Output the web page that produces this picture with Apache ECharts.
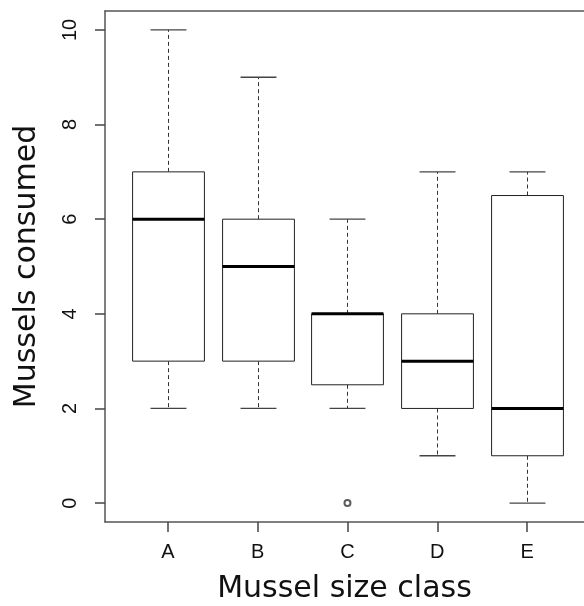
<!DOCTYPE html>
<html>
<head>
<meta charset="utf-8">
<script src="https://cdn.jsdelivr.net/npm/echarts@6/dist/echarts.min.js"></script>
<style>html,body{margin:0;padding:0;background:#fff;}#c{width:584px;height:606px;}</style>
</head>
<body>
<div id="c"></div>
<script>
const categories = ['A', 'B', 'C', 'D', 'E'];
const lowWhisker = [2, 2, 2, 1, 0];
const q1 = [3, 3, 2.5, 2, 1];
const median = [6, 5, 4, 3, 2];
const q3 = [7, 6, 4, 4, 6.5];
const highWhisker = [10, 9, 6, 7, 7];
const outliers = [[3, 0]];
const yTicks = [0, 2, 4, 6, 8, 10];
const xTicks = [1, 2, 3, 4, 5];

const boxData = categories.map((c, i) => [i + 1, lowWhisker[i], q1[i], median[i], q3[i], highWhisker[i]]);

const chart = echarts.init(document.getElementById('c'));
const fontFam = '"Liberation Sans", Arial, sans-serif';
const titleFam = '"DejaVu Sans", sans-serif';
const frame = { show: true, onZero: false, lineStyle: { color: '#555', width: 1.5 } };
chart.setOption({
  animation: false,
  backgroundColor: '#fff',
  grid: { left: 105, top: 11, right: 0, bottom: 84, containLabel: false, outerBoundsMode: 'none' },
  xAxis: [{
    type: 'value', min: 0.3, max: 5.634, position: 'bottom',
    splitLine: { show: false },
    axisLine: frame,
    axisTick: { show: true, length: 10, lineStyle: { color: '#444', width: 1.5 }, customValues: xTicks },
    axisLabel: { color: '#111', fontSize: 20, fontFamily: fontFam, margin: 20, customValues: xTicks, showMinLabel: true, showMaxLabel: true,
      formatter: v => categories[Math.round(v) - 1] || '' },
    name: 'Mussel size class', nameLocation: 'middle', nameGap: 52,
    nameTextStyle: { color: '#111', fontSize: 30, fontFamily: titleFam }
  }, {
    type: 'value', min: 0.3, max: 5.634, position: 'top',
    splitLine: { show: false }, axisLine: frame, axisTick: { show: false }, axisLabel: { show: false }
  }],
  yAxis: {
    type: 'value', min: -0.4, max: 10.4,
    splitLine: { show: false },
    axisLine: frame,
    axisTick: { show: true, length: 10, lineStyle: { color: '#444', width: 1.5 }, customValues: yTicks },
    axisLabel: { color: '#111', fontSize: 20, fontFamily: fontFam, rotate: 90, margin: 25, customValues: yTicks },
    name: 'Mussels consumed', nameLocation: 'middle', nameGap: 63,
    nameTextStyle: { color: '#111', fontSize: 30, fontFamily: titleFam }
  },
  series: [
    {
      type: 'custom',
      data: boxData,
      encode: { x: 0, y: [1, 2, 3, 4, 5] },
      clip: false,
      renderItem: function (params, api) {
        const x = api.value(0);
        const pLo = api.coord([x, api.value(1)]);
        const pQ1 = api.coord([x, api.value(2)]);
        const pMed = api.coord([x, api.value(3)]);
        const pQ3 = api.coord([x, api.value(4)]);
        const pHi = api.coord([x, api.value(5)]);
        const hw = api.size([0.8, 0])[0] / 2;
        const cw = hw / 2;
        const cx = Math.round(pMed[0]) + 0.5;
        const stroke = '#222';
        const dash = { stroke: '#333', lineWidth: 1, lineDash: [4, 3] };
        const cap = { stroke: '#444', lineWidth: 1.3 };
        return {
          type: 'group',
          children: [
            { type: 'line', shape: { x1: cx, y1: pQ3[1], x2: cx, y2: pHi[1] }, style: dash },
            { type: 'line', shape: { x1: cx, y1: pQ1[1], x2: cx, y2: pLo[1] }, style: dash },
            { type: 'line', shape: { x1: cx - cw, y1: pHi[1], x2: cx + cw, y2: pHi[1] }, style: cap },
            { type: 'line', shape: { x1: cx - cw, y1: pLo[1], x2: cx + cw, y2: pLo[1] }, style: cap },
            { type: 'rect', shape: { x: cx - hw, y: pQ3[1], width: 2 * hw, height: pQ1[1] - pQ3[1] },
              style: { fill: '#fff', stroke: stroke, lineWidth: 1 } },
            { type: 'line', shape: { x1: cx - hw, y1: pMed[1], x2: cx + hw, y2: pMed[1] }, style: { stroke: '#000', lineWidth: 3 } }
          ]
        };
      }
    },
    {
      type: 'scatter',
      data: outliers,
      symbol: 'emptyCircle',
      symbolSize: 6,
      itemStyle: { color: '#333', borderColor: '#333', borderWidth: 1 }
    }
  ]
});
</script>
</body>
</html>
